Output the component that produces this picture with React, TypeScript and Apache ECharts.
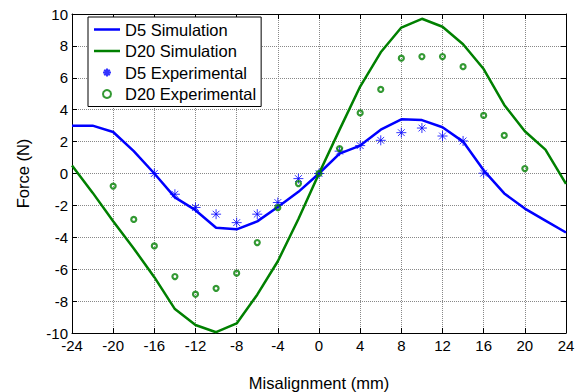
import React, { useEffect, useRef } from "react";
import * as echarts from "echarts";

const simX = [-24, -22, -20, -18, -16, -14, -12, -10, -8, -6, -4, -2, 0, 2, 4, 6, 8, 10, 12, 14, 16, 18, 20, 22, 24];
const d5Sim = [3.0, 3.0, 2.6, 1.4, 0.0, -1.5, -2.3, -3.4, -3.5, -3.0, -2.1, -1.15, 0.0, 1.25, 1.75, 2.75, 3.4, 3.35, 2.9, 2.0, 0.2, -1.25, -2.2, -2.95, -3.7];
const d20Sim = [0.5, -1.2, -3.0, -4.7, -6.5, -8.5, -9.5, -9.95, -9.4, -7.6, -5.5, -2.85, 0.0, 2.75, 5.45, 7.6, 9.15, 9.7, 9.2, 8.1, 6.55, 4.3, 2.65, 1.5, -0.65];

const d5ExpX = [-16, -14, -12, -10, -8, -6, -4, -2, 0, 2, 4, 6, 8, 10, 12, 14, 16];
const d5Exp = [0.0, -1.3, -2.13, -2.55, -3.08, -2.55, -1.82, -0.32, 0.0, 1.4, 1.75, 2.08, 2.56, 2.85, 2.35, 2.04, 0.02];

const d20ExpX = [-20, -18, -16, -14, -12, -10, -8, -6, -4, -2, 0, 2, 4, 6, 8, 10, 12, 14, 16, 18, 20];
const d20Exp = [-0.79, -2.88, -4.54, -6.46, -7.57, -7.2, -6.25, -4.33, -2.14, -0.63, 0.0, 1.56, 3.8, 5.27, 7.23, 7.33, 7.33, 6.7, 3.64, 2.39, 0.31];

const xTicks = { min: -24, max: 24, interval: 4 };
const yTicks = { min: -10, max: 10, interval: 2 };

const BLUE = "#0000ff";
const GREEN = "#008000";
const FONT = "'Liberation Sans', Arial, sans-serif";

const STAR = "path://M5,0 L5,10 M0,5 L10,5 M1.6,1.6 L8.4,8.4 M1.6,8.4 L8.4,1.6";
const LINE_ICON = "path://M0,0 L26,0 L26,2.5 L0,2.5 Z";

export default function App() {
  const ref = useRef<HTMLDivElement>(null);
  useEffect(() => {
    if (!ref.current) return;
    const chart = echarts.init(ref.current, null, { renderer: "svg" });
    const zip = (xs: number[], ys: number[]) => xs.map((x, i) => [x, ys[i]]);
    const axisCommon = {
      axisLine: { show: true, onZero: false, lineStyle: { color: "#000", width: 1 } },
      axisTick: { show: true, inside: true, length: 5, lineStyle: { color: "#000" } },
    };
    chart.setOption({
      animation: false,
      backgroundColor: "#fff",
      textStyle: { fontFamily: FONT },
      grid: { left: 72, right: 14, top: 14, bottom: 59, containLabel: false, outerBoundsMode: "none" },
      xAxis: [
        {
          type: "value",
          ...xTicks,
          position: "bottom",
          ...axisCommon,
          axisLabel: { color: "#000", fontSize: 15, fontFamily: FONT, margin: 5 },
          splitLine: { show: true, lineStyle: { color: "#888", type: [1, 1], width: 1 } },
          name: "Misalignment (mm)",
          nameLocation: "middle",
          nameGap: 41,
          nameTextStyle: { color: "#000", fontSize: 16.5, fontFamily: FONT },
        },
        {
          type: "value",
          ...xTicks,
          position: "top",
          ...axisCommon,
          axisLabel: { show: false },
          splitLine: { show: false },
        },
      ],
      yAxis: [
        {
          type: "value",
          ...yTicks,
          position: "left",
          ...axisCommon,
          axisLabel: { color: "#000", fontSize: 15, fontFamily: FONT, margin: 4 },
          splitLine: { show: true, lineStyle: { color: "#888", type: [1, 1], width: 1 } },
          name: "Force (N)",
          nameLocation: "middle",
          nameGap: 41,
          nameRotate: 90,
          nameTextStyle: { color: "#000", fontSize: 16.5, fontFamily: FONT },
        },
        {
          type: "value",
          ...yTicks,
          position: "right",
          ...axisCommon,
          axisLabel: { show: false },
          splitLine: { show: false },
        },
      ],
      legend: {
        orient: "vertical",
        left: 88,
        top: 17,
        width: 174,
        padding: [4, 5, 4, 6],
        itemGap: 4.5,
        itemWidth: 26,
        itemHeight: 8,
        backgroundColor: "#fff",
        borderColor: "#000",
        borderWidth: 1,
        textStyle: { color: "#000", fontSize: 16.5, fontFamily: FONT },
        data: [
          { name: "D5 Simulation", icon: LINE_ICON },
          { name: "D20 Simulation", icon: LINE_ICON },
          { name: "D5 Experimental" },
          { name: "D20 Experimental" },
        ],
      },
      series: [
        {
          name: "D5 Simulation",
          type: "line",
          data: zip(simX, d5Sim),
          symbol: "none",
          lineStyle: { color: BLUE, width: 2.5 },
          itemStyle: { color: BLUE },
          z: 3,
        },
        {
          name: "D20 Simulation",
          type: "line",
          data: zip(simX, d20Sim),
          symbol: "none",
          lineStyle: { color: GREEN, width: 2.5 },
          itemStyle: { color: GREEN },
          z: 3,
        },
        {
          name: "D5 Experimental",
          type: "scatter",
          data: zip(d5ExpX, d5Exp),
          symbol: STAR,
          symbolSize: 10,
          itemStyle: { color: "none", borderColor: BLUE, borderWidth: 1 },
          z: 4,
        },
        {
          name: "D20 Experimental",
          type: "scatter",
          data: zip(d20ExpX, d20Exp),
          symbol: "circle",
          symbolSize: 5,
          itemStyle: { color: "none", borderColor: GREEN, borderWidth: 2.2 },
          z: 4,
        },
      ],
    });
    return () => chart.dispose();
  }, []);
  return <div ref={ref} style={{ width: 580, height: 392, position: "absolute", left: 0, top: 0 }} />;
}
